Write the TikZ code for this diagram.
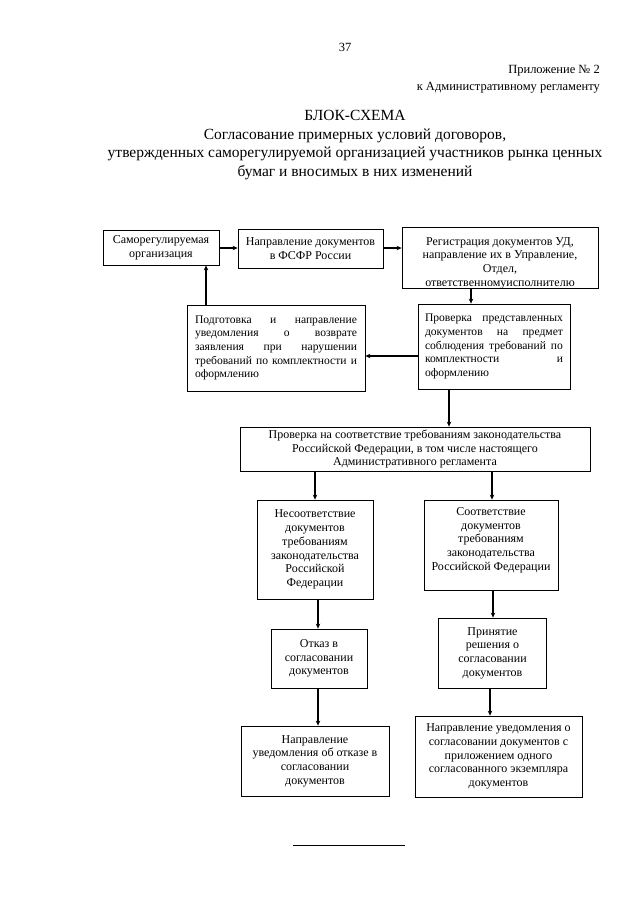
\documentclass[tikz,border=0pt]{standalone}
\usepackage{fontspec}
\setmainfont{Liberation Serif}
\usetikzlibrary{arrows.meta,calc}
\tikzset{
  box/.style={draw, line width=0.8pt, inner sep=2pt, align=center, font=\fontsize{12}{13.7}\selectfont},
  jbox/.style={box, align=left, font=\fontsize{11.6}{13.7}\selectfont},
  arr/.style={line width=1.1pt, -{Stealth[length=5pt,width=4.5pt]}},
  hdr/.style={inner sep=0pt, font=\fontsize{12.5}{15}\selectfont},
  ttl/.style={inner sep=0pt, align=center, font=\fontsize{15.5}{18.5}\selectfont}
}
\begin{document}
\begin{tikzpicture}[x=1pt,y=-1pt]
\useasboundingbox[fill=white] (0,0) rectangle (640,905);
% header
\node[hdr] (pg) at (345,47) {37};
\node[hdr, anchor=east] (pr1) at (600,71) {Приложение № 2};
\node[hdr, anchor=east] (pr2) at (600,88) {к Административному регламенту};
\node[ttl] (tt) at (355,145) {БЛОК-СХЕМА\\Согласование примерных условий договоров,\\утвержденных саморегулируемой организацией участников рынка ценных\\бумаг и вносимых в них изменений};
% boxes
\node[box, minimum width=116, minimum height=35] (b1) at (161,247.5) {Саморегулируемая\\организация};
\node[box, minimum width=145, minimum height=39] (b2) at (310.5,248.5) {Направление документов\\в ФСФР России};
\node[box, minimum width=196, minimum height=61] (b3) at (500,257.5) {};
\begin{scope}
\clip (b3.south west) rectangle (b3.north east);
\node[box, draw=none] (b3t) at (500,263) {Регистрация документов УД,\\направление их в Управление,\\Отдел,\\ответственномуисполнителю};
\end{scope}
\node[jbox, minimum width=178, minimum height=86, text width=162] (b4) at (276,348)
 {Подготовка\hfill и\hfill направление\\уведомления\hfill о\hfill возврате\\заявления\hfill при\hfill нарушении\\требований\hfill по\hfill комплектности\hfill и\\оформлению};
\node[jbox, minimum width=152, minimum height=85, text width=138] (b5) at (494,346.5)
 {Проверка\hfill представленных\\документов\hfill на\hfill предмет\\соблюдения\hfill требований\hfill по\\комплектности\hfill и\\оформлению};
\node[box, minimum width=350, minimum height=44] (b6) at (415,449) {Проверка на соответствие требованиям законодательства\\Российской Федерации, в том числе настоящего\\Административного регламента};
\node[box, minimum width=116, minimum height=99] (b7) at (315,549.5) {Несоответствие\\документов\\требованиям\\законодательства\\Российской\\Федерации};
\node[box, minimum width=134, minimum height=90] (b8) at (491,545) {};
\node[box, draw=none] (b8t) at (491,540) {Соответствие\\документов\\требованиям\\законодательства\\Российской Федерации};
\node[box, minimum width=96, minimum height=59] (b9) at (319,658.5) {Отказ в\\согласовании\\документов};
\node[box, minimum width=108, minimum height=70] (b10) at (492.5,653) {Принятие\\решения о\\согласовании\\документов};
\node[box, minimum width=148, minimum height=70] (b11) at (315,761) {Направление\\уведомления об отказе в\\согласовании\\документов};
\node[box, minimum width=167, minimum height=81] (b12) at (498.5,756.5) {Направление уведомления о\\согласовании документов с\\приложением одного\\согласованного экземпляра\\документов};
% connectors
\draw[arr] (b1.east |- 0,248) -- (b2.west |- 0,248);
\draw[arr] (b2.east |- 0,248) -- (b3.west |- 0,248);
\draw[arr] (b3.south -| 471,0) -- (b5.north -| 471,0);
\draw[arr] (b5.west |- 0,356) -- (b4.east |- 0,356);
\draw[arr] (b4.north -| 206,0) -- (b1.south -| 206,0);
\draw[arr] (b5.south -| 449,0) -- (b6.north -| 449,0);
\draw[arr] (b6.south -| 315,0) -- (b7.north -| 315,0);
\draw[arr] (b6.south -| 492,0) -- (b8.north -| 492,0);
\draw[arr] (b7.south -| 318,0) -- (b9.north -| 318,0);
\draw[arr] (b8.south -| 493,0) -- (b10.north -| 493,0);
\draw[arr] (b9.south -| 318,0) -- (b11.north -| 318,0);
\draw[arr] (b10.south -| 490,0) -- (b12.north -| 490,0);
% bottom rule
\coordinate (r1) at (293,845);
\coordinate (r2) at (405,845);
\draw[line width=0.9pt] (r1) -- (r2);
\end{tikzpicture}
\end{document}
